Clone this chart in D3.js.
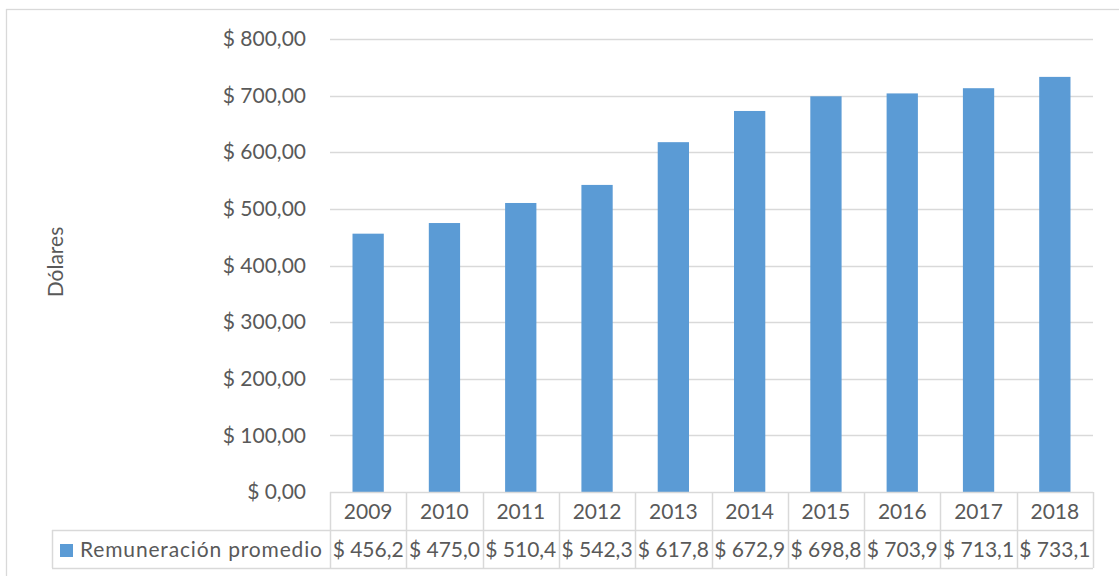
<!DOCTYPE html>
<html>
<head>
<meta charset="utf-8">
<script src="https://cdn.jsdelivr.net/npm/d3@7"></script>
<style>
	body { margin: 0; background: #fff; }
	text { font-family: Lato, "Open Sans", sans-serif; fill: #595959; }
</style>
</head>
<body>
<svg id="chart" width="1119" height="576"></svg>
<script>
// data
var years = ['2009', '2010', '2011', '2012', '2013', '2014', '2015', '2016', '2017', '2018'];
var remuneracion = [456.2, 475.0, 510.4, 542.3, 617.8, 672.9, 698.8, 703.9, 713.1, 733.1];
var yTicks = [0, 100, 200, 300, 400, 500, 600, 700, 800];
var seriesName = 'Remuneración promedio';
var axisTitle = 'Dólares';

var svg = d3.select('#chart');

var plot = { left: 330, right: 1093, top: 39, bottom: 492 };
var rowH = 38;
var barColor = '#5B9BD5';
var lineColor = '#D9D9D9';
var fontSize = 21;

// comma decimals, like the original
fmt = function(v, dec){
	return '$ ' + v.toFixed(dec).replace('.', ',');
};

var x = d3.scaleBand()
	.domain(years)
	.range([plot.left, plot.right])
	.paddingInner(0.59)
	.paddingOuter(0.295);

var y = d3.scaleLinear()
	.domain([0, 800])
	.range([plot.bottom, plot.top]);

// chart frame (right and bottom edges run off the picture)
svg.append('rect')
	.attr('x', 6.5).attr('y', 9.5)
	.attr('width', 1200).attr('height', 700)
	.attr('fill', 'none')
	.attr('stroke', lineColor)
	.attr('stroke-width', 1.3);

// gridlines
svg.append('g')
	.selectAll('line')
	.data(yTicks.filter(function(d) { return d > 0; }))
	.enter()
	.append('line')
	.attr('x1', plot.left).attr('x2', plot.right)
	.attr('y1', function(d) { return Math.round(y(d)) + 0.5; })
	.attr('y2', function(d) { return Math.round(y(d)) + 0.5; })
	.attr('stroke', lineColor)
	.attr('stroke-width', 1.3);

// y axis labels
var yAxis = d3.axisLeft(y)
	.tickValues(yTicks)
	.tickSize(0)
	.tickPadding(24)
	.tickFormat(function(d) { return fmt(d, 2); });

var yg = svg.append('g')
	.attr('transform', 'translate(' + plot.left + ',0)')
	.call(yAxis);
yg.select('.domain').remove();
yg.selectAll('text')
	.attr('font-size', fontSize)
	.style('font-family', 'Lato, sans-serif')
	.attr('fill', '#595959');

// bars
svg.append('g')
	.selectAll('rect')
	.data(remuneracion)
	.enter()
	.append('rect')
	.attr('x', function(d, i) { return x(years[i]); })
	.attr('width', x.bandwidth())
	.attr('y', function(d) { return y(d); })
	.attr('height', function(d) { return y(0) - y(d); })
	.attr('fill', barColor);

// axis title
svg.append('text')
	.attr('transform', 'translate(63,262) rotate(-90)')
	.attr('text-anchor', 'middle')
	.attr('font-size', fontSize)
	.text(axisTitle);

// data table
var table = svg.append('g');
var tableLeft = 52;
var step = (plot.right - plot.left) / years.length;

// horizontal lines
table.append('line')
	.attr('x1', plot.left).attr('x2', plot.right)
	.attr('y1', plot.bottom + 0.5).attr('y2', plot.bottom + 0.5);
table.append('line')
	.attr('x1', tableLeft).attr('x2', plot.right)
	.attr('y1', plot.bottom + rowH + 0.5).attr('y2', plot.bottom + rowH + 0.5);
table.append('line')
	.attr('x1', tableLeft).attr('x2', plot.right)
	.attr('y1', plot.bottom + 2 * rowH + 0.5).attr('y2', plot.bottom + 2 * rowH + 0.5);

// vertical lines
table.append('line')
	.attr('x1', tableLeft + 0.5).attr('x2', tableLeft + 0.5)
	.attr('y1', plot.bottom + rowH).attr('y2', plot.bottom + 2 * rowH);
table.selectAll('line.col')
	.data(d3.range(years.length + 1))
	.enter()
	.append('line')
	.attr('class', 'col')
	.attr('x1', function(i) { return Math.round(plot.left + i * step) + 0.5; })
	.attr('x2', function(i) { return Math.round(plot.left + i * step) + 0.5; })
	.attr('y1', plot.bottom).attr('y2', plot.bottom + 2 * rowH);

table.selectAll('line')
	.attr('stroke', lineColor)
	.attr('stroke-width', 1.5);

// year row
table.selectAll('text.year')
	.data(years)
	.enter()
	.append('text')
	.attr('class', 'year')
	.attr('x', function(d) { return x(d) + x.bandwidth() / 2; })
	.attr('y', plot.bottom + 27)
	.attr('text-anchor', 'middle')
	.attr('font-size', fontSize)
	.text(function(d) { return d; });

// value row
table.selectAll('text.val')
	.data(remuneracion)
	.enter()
	.append('text')
	.attr('class', 'val')
	.attr('x', function(d, i) { return x(years[i]) + x.bandwidth() / 2; })
	.attr('y', plot.bottom + rowH + 27)
	.attr('text-anchor', 'middle')
	.attr('font-size', fontSize)
	.text(function(d) { return fmt(d, 1); });

// legend key + series name
table.append('rect')
	.attr('x', 60).attr('y', plot.bottom + rowH + 14)
	.attr('width', 13).attr('height', 13)
	.attr('fill', barColor);
table.append('text')
	.attr('x', 80)
	.attr('y', plot.bottom + rowH + 27)
	.attr('font-size', fontSize)
	.attr('textLength', 242)
	.text(seriesName);
</script>
</body>
</html>
